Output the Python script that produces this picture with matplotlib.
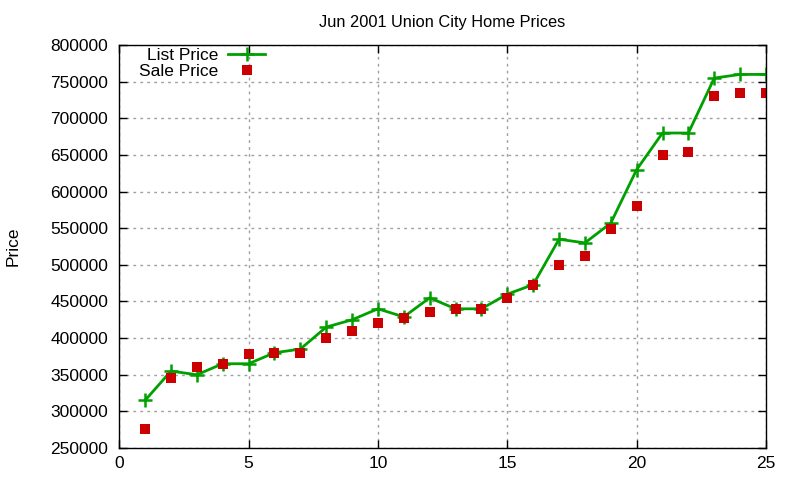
import matplotlib
matplotlib.use("Agg")
import matplotlib.pyplot as plt

x = list(range(1, 26))
list_price = [315000, 355000, 350000, 365000, 365000, 380000, 385000, 415000, 425000, 440000,
              429000, 455000, 440000, 440000, 460000, 473000, 535000, 530000, 557000, 630000,
              680000, 680000, 755000, 760000, 760000]
sale_price = [276000, 345000, 360000, 364000, 378000, 380000, 380000, 400000, 410000, 420000,
              427000, 435000, 440000, 440000, 455000, 472000, 500000, 512000, 549000, 580000,
              650000, 654000, 730000, 735000, 735000]
title = "Jun 2001 Union City Home Prices"
xticks = [0, 5, 10, 15, 20, 25]
yticks = list(range(250000, 800001, 50000))

plt.rcParams['font.family'] = ['Liberation Sans', 'DejaVu Sans']
fig = plt.figure(figsize=(8, 4.8), dpi=100)
ax = fig.add_axes([0.149, 0.0667, 0.8085, 0.8393])

ax.plot(x, list_price, color='#00a000', linewidth=2, marker='+', markersize=10,
        markeredgewidth=1.8, label='List Price')
ax.plot(x, sale_price, linestyle='none', marker='s', markersize=7, color='#cc0000',
        markeredgewidth=0, label='Sale Price')

ax.set_xlim(0, 25)
ax.set_ylim(250000, 800000)
ax.set_xticks(xticks)
ax.set_yticks(yticks)
ax.tick_params(direction='in', top=True, right=True, labelsize=12.5, length=6, width=1)
ax.tick_params(axis='y', pad=8)
ax.tick_params(axis='x', pad=6)
ax.grid(True, color='#a0a0a0', linestyle=(0, (2, 3)), linewidth=1)
for s in ax.spines.values():
    s.set_linewidth(1)
ax.set_title(title, fontsize=11.8, pad=13)
ax.set_ylabel('Price', fontsize=12.5)
ax.yaxis.set_label_coords(-0.152, 0.5)

leg = ax.legend(loc='upper left', bbox_to_anchor=(0.015, 1.018), frameon=False, markerfirst=False,
                fontsize=12.5, handlelength=2.15, labelspacing=0.0, borderaxespad=0.2,
                handletextpad=0.55)
for t in leg.get_texts():
    t.set_ha('right')
leg._legend_box.align = 'right'

fig.savefig('out.png', dpi=100)
